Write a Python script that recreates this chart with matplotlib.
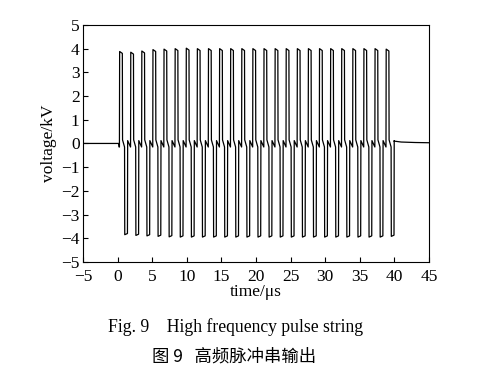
import numpy as np
import matplotlib
matplotlib.use("Agg")
import matplotlib.pyplot as plt

# pulse start times (us)
pulse_t = [0.25, 1.86, 3.46, 5.07, 6.67, 8.28, 9.89, 11.49, 13.10, 14.71,
           16.31, 17.92, 19.52, 21.13, 22.74, 24.34, 25.95, 27.55, 29.16,
           30.77, 32.37, 33.98, 35.58, 37.19, 38.80]
pos_peak = [3.88, 3.85, 3.90, 3.96, 3.98, 4.00, 4.02, 4.00, 4.00, 4.00,
            4.00, 4.00, 4.00, 4.00, 4.00, 4.00, 4.00, 4.00, 4.00, 4.00,
            4.00, 4.00, 4.00, 4.00, 3.98]
neg_peak = [-3.85, -3.88, -3.90, -3.92, -3.94, -3.95, -3.95, -3.95, -3.95, -3.95,
            -3.95, -3.95, -3.95, -3.95, -3.95, -3.95, -3.95, -3.95, -3.95, -3.95,
            -3.95, -3.95, -3.95, -3.95, -3.92]
tail_t = [39.95, 41.0, 43.0, 45.0]
tail_v = [0.10, 0.06, 0.04, 0.03]

width = 0.42     # pulse width, us
neg_off = 0.74   # negative pulse delay after positive, us

t = [-5.0, pulse_t[0] - 0.1, pulse_t[0] - 0.05]
v = [0.0, 0.0, -0.15]
for t0, p, n in zip(pulse_t, pos_peak, neg_peak):
    t += [t0, t0 + 0.03, t0 + width, t0 + width + 0.03,
          t0 + neg_off, t0 + neg_off + 0.03, t0 + neg_off + width,
          t0 + neg_off + width + 0.03]
    v += [-0.15, p, p - 0.08, 0.15, -0.15, n, n + 0.05, 0.12]
t += tail_t
v += tail_v

plt.rcParams['font.family'] = ['Liberation Serif', 'Noto Sans CJK SC']
fig = plt.figure(figsize=(4.89, 3.78), dpi=100)
ax = fig.add_axes([0.170, 0.307, 0.707, 0.627])
ax.plot(t, v, color="black", lw=0.9)
ax.set_xlim(-5, 45)
ax.set_ylim(-5, 5)
ax.set_xticks(range(-5, 46, 5))
ax.set_yticks(range(-5, 6))
ax.set_xticklabels([f"{x}".replace("-", "\u2212") for x in range(-5, 46, 5)])
ax.set_yticklabels([f"{y}".replace("-", "\u2212") for y in range(-5, 6)])
ax.tick_params(direction="in", length=3.5, width=0.8, labelsize=12.5,
               top=False, right=False)
ax.tick_params(axis="x", pad=5)
ax.tick_params(axis="y", pad=2.5)
for s in ax.spines.values():
    s.set_linewidth(0.8)
ax.set_xlabel("time/\u03bcs", fontsize=12.5, labelpad=-1)
ax.set_ylabel("voltage/kV", fontsize=12.5, labelpad=3)

fig.text(0.482, 0.135, "Fig. 9    High frequency pulse string", ha="center",
         va="center", fontsize=12.7)
fig.text(0.478, 0.058, "图 9   高频脉冲串输出", ha="center", va="center",
         fontsize=12.5, family=['Noto Sans CJK SC', 'Liberation Serif'])

fig.savefig("out.png", dpi=100)
